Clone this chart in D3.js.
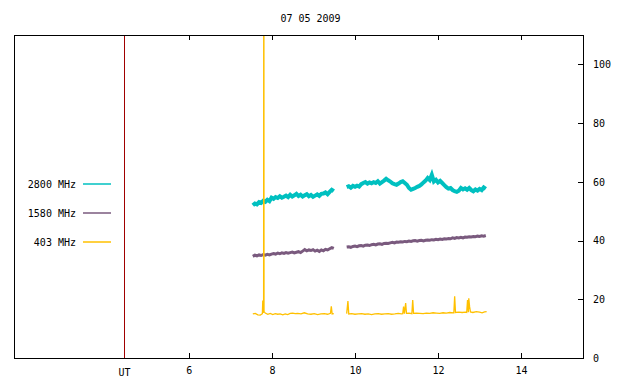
<!DOCTYPE html>
<html>
<head>
<meta charset="utf-8">
<script src="https://cdn.jsdelivr.net/npm/d3@7"></script>
<style>
  body { margin: 0; background: #fff; }
  text { font-family: "DejaVu Sans Mono", monospace; font-size: 10px; fill: #000; }
</style>
</head>
<body>
<div id="chart"></div>
<script>
var title = "07 05 2009";
var xTicks = [6, 8, 10, 12, 14];
var yTicks = [0, 20, 40, 60, 80, 100];
var utMark = 4.45;

// samples every 0.05 h from the start of each run
var runStart = [7.54, 9.80];
var step = 0.05;

var mhz2800a = [52.0, 52.6, 52.3, 53.1, 52.8, 53.5, 53.2, 53.9, 53.4, 54.6,
  54.2, 54.8, 54.5, 55.1, 54.6, 54.9, 55.3, 54.8, 55.6, 55.0,
  55.4, 55.9, 55.2, 55.6, 55.0, 55.4, 55.8, 55.1, 55.5, 54.9,
  55.3, 55.7, 55.2, 55.9, 56.0, 56.4, 55.8, 56.6, 57.3, 56.8];
var mhz2800b = [58.2, 58.5, 58.0, 58.6, 58.3, 58.7, 58.4, 59.2, 59.6, 59.9,
  59.4, 59.8, 59.5, 59.9, 59.6, 60.2, 59.4, 59.9, 60.4, 61.0,
  60.5, 60.1, 59.5, 59.2, 59.0, 59.4, 59.9, 60.2, 59.6, 59.0,
  57.9, 57.3, 57.6, 57.9, 58.3, 58.6, 59.1, 59.8, 60.4, 61.3,
  60.6, 62.4, 60.1, 60.7, 59.8, 60.3, 59.6, 58.9, 58.2, 57.7,
  57.9, 57.2, 56.8, 56.6, 57.0, 57.9, 57.4, 57.8, 57.3, 57.9,
  57.2, 56.8, 57.4, 57.0, 57.6, 57.2, 58.1, 57.6];

var mhz1580a = [34.6, 35.0, 34.8, 35.1, 34.9, 35.2, 35.0, 35.3, 35.1, 35.4,
  35.6, 35.4, 35.7, 35.5, 35.8, 35.6, 35.9, 35.7, 35.9, 36.1,
  35.8, 36.0, 36.2, 35.9, 36.4, 36.9, 36.5, 36.8, 36.6, 36.9,
  36.4, 36.7, 36.3, 36.8, 36.5, 37.0, 36.8, 37.2, 37.6, 37.3];
var mhz1580b = [37.8, 37.9, 37.7, 38.0, 38.1, 37.9, 38.2, 38.3, 38.1, 38.4,
  38.5, 38.3, 38.6, 38.7, 38.5, 38.8, 38.9, 38.7, 39.0, 39.1,
  39.0, 39.2, 39.4, 39.2, 39.5, 39.4, 39.6, 39.5, 39.7, 39.6,
  39.8, 39.7, 39.9, 40.0, 39.8, 40.0, 40.1, 39.9, 40.1, 40.2,
  40.1, 40.3, 40.2, 40.4, 40.3, 40.5, 40.4, 40.6, 40.5, 40.7,
  40.6, 40.9, 40.7, 41.0, 40.9, 41.1, 40.9, 41.2, 41.1, 41.3,
  41.2, 41.4, 41.3, 41.5, 41.4, 41.6, 41.5, 41.7];

// 403 MHz has narrow spikes, so keep its own times
var mhz403aTime = [7.54, 7.60, 7.66, 7.72, 7.77, 7.78, 7.79, 7.80, 7.805, 7.81, 7.84, 7.90, 7.96, 8.02, 8.08, 8.14, 8.20, 8.26,
  8.32, 8.38, 8.44, 8.50, 8.56, 8.62, 8.70, 8.78, 8.86, 8.94, 9.02, 9.10, 9.18, 9.26, 9.34, 9.41, 9.43, 9.45, 9.49];
var mhz403a = [15.0, 15.2, 14.7, 14.6, 15.1, 19.6, 15.4, 15.8, 200, 15.8, 15.3, 14.9, 15.2, 14.8, 15.1, 14.9, 15.0, 14.7,
  15.0, 14.8, 15.2, 15.3, 15.1, 15.2, 15.0, 15.4, 15.0, 14.9, 15.1, 14.8, 15.0, 15.1, 14.9, 15.2, 17.6, 15.0, 15.1];
var mhz403bTime = [9.80, 9.83, 9.85, 9.92, 10.00, 10.08, 10.16, 10.24, 10.32, 10.40, 10.48, 10.56, 10.64, 10.72, 10.80,
  10.88, 10.96, 11.04, 11.12, 11.15, 11.17, 11.19, 11.22, 11.24, 11.30, 11.37, 11.39, 11.41, 11.48, 11.56, 11.64,
  11.72, 11.80, 11.88, 11.96, 12.04, 12.12, 12.20, 12.28, 12.38, 12.40, 12.42, 12.50, 12.58, 12.66, 12.69, 12.71,
  12.73, 12.74, 12.76, 12.78, 12.84, 12.92, 13.00, 13.06, 13.12, 13.17];
var mhz403b = [15.1, 19.4, 15.0, 15.1, 14.9, 15.0, 15.1, 14.9, 15.0, 14.8, 15.0, 15.1, 14.9, 15.0, 15.1,
  14.9, 15.0, 15.2, 15.0, 15.1, 17.5, 15.1, 18.7, 15.2, 15.3, 15.1, 19.7, 15.2, 15.3, 15.2, 15.1,
  15.3, 15.2, 15.4, 15.3, 15.2, 15.4, 15.3, 15.5, 15.4, 21.0, 15.5, 15.6, 15.5, 15.6, 15.5, 19.7,
  15.6, 20.3, 17.4, 15.7, 15.5, 15.8, 15.6, 15.4, 15.7, 15.8];

var seriesNames = ["2800 MHz", "1580 MHz", "403 MHz"];
var seriesColors = ["#00c0c0", "#7a5a7e", "#ffc000"];
var seriesWidths = [4, 3, 1.3];

var svgWidth = 640;
var svgHeight = 384;
var plot = { left: 14, right: 583, top: 35, bottom: 358 };

var svg = d3.select("#chart").append("svg")
  .attr("width", svgWidth)
  .attr("height", svgHeight);

var x = d3.scaleLinear().domain([1.79, 15.49]).range([plot.left, plot.right]);
var y = d3.scaleLinear().domain([0, 110]).range([plot.bottom, plot.top]);

function even(vals, start) {
  return vals.map(function(v, i) { return { t: start + i * step, v: v }; });
}
function paired(times, vals) {
  return times.map(function(t, i) { return { t: t, v: vals[i] }; });
}

var runs = [
  [even(mhz2800a, runStart[0]), even(mhz2800b, runStart[1])],
  [even(mhz1580a, runStart[0]), even(mhz1580b, runStart[1])],
  [paired(mhz403aTime, mhz403a), paired(mhz403bTime, mhz403b)]
];

svg.append("clipPath").attr("id", "clip")
  .append("rect")
  .attr("x", plot.left).attr("y", plot.top)
  .attr("width", plot.right - plot.left).attr("height", plot.bottom - plot.top);

svg.append("text")
  .attr("x", (plot.left + plot.right) / 2 + 12)
  .attr("y", 22)
  .attr("text-anchor", "middle")
  .text(title);

// UT marker line
var ux = Math.round(x(utMark)) + 0.5;
svg.append("line")
  .attr("x1", ux).attr("x2", ux)
  .attr("y1", plot.top).attr("y2", plot.bottom)
  .attr("stroke", "#a00000");

svg.append("text")
  .attr("x", x(utMark))
  .attr("y", plot.bottom + 18)
  .attr("text-anchor", "middle")
  .text("UT");

var line = d3.line().x(d => x(d.t)).y(d => y(d.v));

var lines = svg.append("g").attr("clip-path", "url(#clip)");
runs.forEach(function(pair, k) {
  pair.forEach(function(run) {
    lines.append("path")
      .datum(run)
      .attr("d", line)
      .attr("fill", "none")
      .attr("stroke", seriesColors[k])
      .attr("stroke-width", seriesWidths[k]);
  });
});

// frame
svg.append("rect")
  .attr("x", plot.left).attr("y", plot.top)
  .attr("width", plot.right - plot.left).attr("height", plot.bottom - plot.top)
  .attr("fill", "none")
  .attr("stroke", "#000")
  .attr("shape-rendering", "crispEdges");

var bottomAxis = d3.axisBottom(x).tickValues(xTicks).tickSizeInner(-5).tickSizeOuter(0).tickPadding(9);
var topAxis = d3.axisTop(x).tickValues(xTicks).tickSizeInner(-5).tickSizeOuter(0).tickFormat("");
var rightAxis = d3.axisRight(y).tickValues(yTicks).tickSizeInner(-5).tickSizeOuter(0).tickPadding(10);

var gb = svg.append("g").attr("transform", `translate(0, ${plot.bottom})`).call(bottomAxis);
var gt = svg.append("g").attr("transform", `translate(0, ${plot.top})`).call(topAxis);
var gr = svg.append("g").attr("transform", `translate(${plot.right}, 0)`).call(rightAxis);
[gb, gt, gr].forEach(function(g) {
  g.select(".domain").remove();
  g.selectAll("line").attr("stroke", "#000").attr("shape-rendering", "crispEdges");
  g.selectAll("text").attr("font-family", null).attr("font-size", null);
});

// key
var key = svg.append("g");
seriesNames.forEach(function(name, i) {
  var ky = 184 + i * 29;
  key.append("text")
    .attr("x", 76).attr("y", ky)
    .attr("dy", "0.35em")
    .attr("text-anchor", "end")
    .text(name);
  key.append("line")
    .attr("x1", 83).attr("x2", 111)
    .attr("y1", ky).attr("y2", ky)
    .attr("stroke", seriesColors[i])
    .attr("stroke-width", 1.5);
});
</script>
</body>
</html>
